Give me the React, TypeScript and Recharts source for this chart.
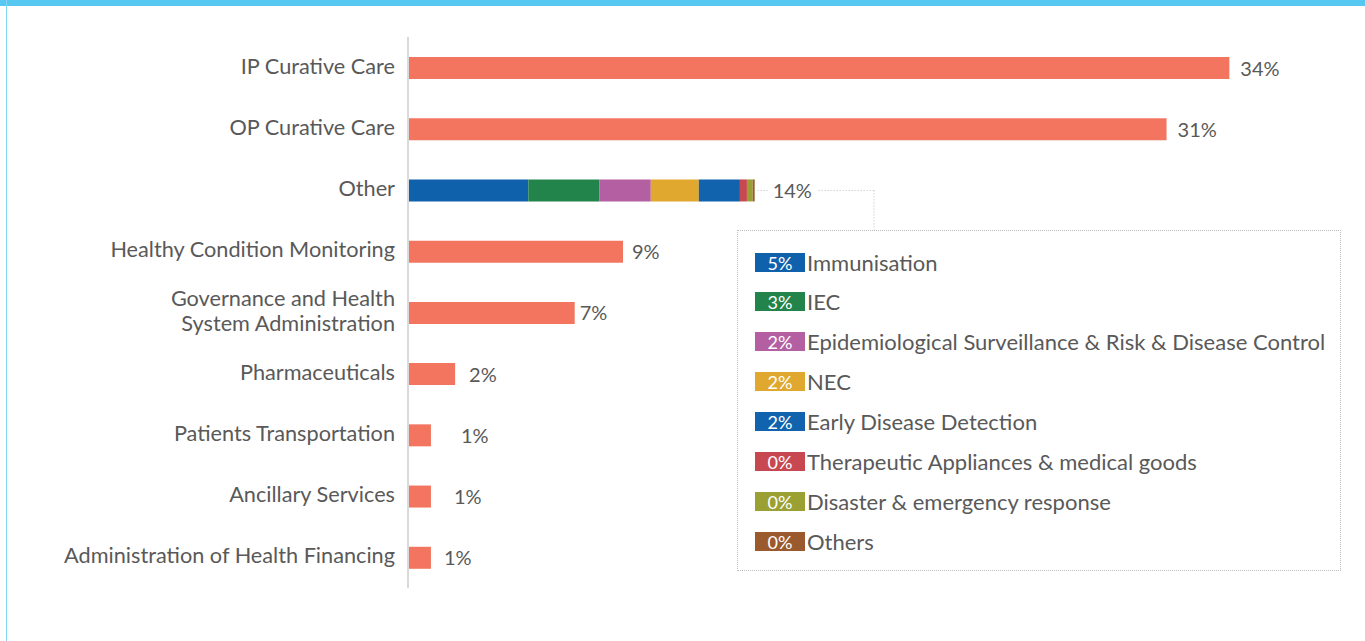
import { BarChart, Bar, XAxis, YAxis, LabelList } from 'recharts'

// spending categories, top to bottom
const categories = [
  'IP Curative Care',
  'OP Curative Care',
  'Other',
  'Healthy Condition Monitoring',
  'Governance and Health\nSystem Administration',
  'Pharmaceuticals',
  'Patients Transportation',
  'Ancillary Services',
  'Administration of Health Financing',
]
// share of spending (%); the "Other" row is broken down below
const shares = [34.0, 31.4, null, 8.9, 6.9, 1.95, 0.95, 0.95, 0.95]
// label spacing after each bar end (px)
const labelGap = [11, 11, 0, 9, 5, 14, 30, 23, 13]

const otherKeys = ['imm', 'iec', 'epi', 'nec', 'edd', 'ther', 'dis', 'oth']
const otherNames = [
  'Immunisation',
  'IEC',
  'Epidemiological Surveillance & Risk & Disease Control',
  'NEC',
  'Early Disease Detection',
  'Therapeutic Appliances & medical goods',
  'Disaster & emergency response',
  'Others',
]
const otherValues = [4.98, 2.95, 2.12, 1.99, 1.7, 0.29, 0.24, 0.08]
const otherColors = ['#1061AC', '#22844A', '#B55FA3', '#E0A82E', '#1163AD', '#C84852', '#9BA033', '#9B5A2D']

const BAR_COLOR = '#F37560'
const TEXT = '#595959'
const FONT = 'Lato, "Open Sans", sans-serif'
const OTHER_INDEX = categories.indexOf('Other')

const data = categories.map((name, i) => {
  const row: Record<string, any> = { name, main: shares[i] ?? undefined }
  if (i === OTHER_INDEX) {
    otherKeys.forEach((k, j) => { row[k] = otherValues[j] })
  }
  return row
})

const otherTotal = Math.round(otherValues.reduce((a, b) => a + b, 0))

const CategoryTick = (props: any) => {
  const { x, y, payload } = props
  const lines = String(payload.value).split('\n')
  const lh = 25
  const y0 = y - 2 - ((lines.length - 1) * lh) / 2
  return (
    <g>
      {lines.map((l, i) => (
        <text key={i} x={x - 5} y={y0 + i * lh} textAnchor="end" dominantBaseline="central"
          fill={TEXT} fontSize={21.7} fontFamily={FONT}>
          {l}
        </text>
      ))}
    </g>
  )
}

// LabelList keyed on the category name, so the row is found by name
const mainLabel = (props: any) => {
  const { x, y, width, height, value } = props
  const idx = categories.indexOf(value)
  const v = shares[idx]
  if (idx < 0 || v == null) return null
  return (
    <text x={x + width + labelGap[idx]} y={y + height / 2 - 0.5} dominantBaseline="central"
      fill={TEXT} fontSize={20} fontFamily={FONT}>
      {Math.round(v)}%
    </text>
  )
}

// legend box position, the callout line runs into it
const LEGEND_LEFT = 737
const LEGEND_TOP = 230
const CALLOUT_X = 874

const otherLabel = (props: any) => {
  const { x, y, width, height, value } = props
  if (value == null) return null
  const end = x + width
  const cy = y + height / 2
  const dot = { stroke: '#bdbdbd', strokeWidth: 1, strokeDasharray: '1 2' }
  return (
    <g>
      <line x1={end + 3} y1={cy} x2={end + 13} y2={cy} {...dot} />
      <text x={end + 18} y={cy - 0.5} dominantBaseline="central" fill={TEXT} fontSize={20} fontFamily={FONT}>
        {otherTotal}%
      </text>
      <line x1={end + 64} y1={cy} x2={CALLOUT_X} y2={cy} {...dot} />
      <line x1={CALLOUT_X} y1={cy} x2={CALLOUT_X} y2={LEGEND_TOP} {...dot} />
    </g>
  )
}

function OtherLegend() {
  return (
    <div
      style={{
        position: 'absolute',
        left: LEGEND_LEFT,
        top: LEGEND_TOP,
        width: 604,
        height: 341,
        boxSizing: 'border-box',
        border: '1px dotted #bdbdbd',
        fontFamily: FONT,
        background: '#fff',
      }}
    >
      {otherNames.map((n, i) => (
        <div
          key={n}
          style={{
            position: 'absolute',
            left: 17,
            top: 21 + i * 39.9,
            height: 20,
            display: 'flex',
            alignItems: 'center',
            whiteSpace: 'nowrap',
          }}
        >
          <span
            style={{
              display: 'inline-block',
              width: 50,
              height: 19,
              lineHeight: '21px',
              background: otherColors[i],
              color: '#fff',
              fontSize: 18,
              textAlign: 'center',
            }}
          >
            {Math.round(otherValues[i])}%
          </span>
          <span style={{ marginLeft: 2, color: TEXT, fontSize: 22 }}>{n}</span>
        </div>
      ))}
    </div>
  )
}

export default function App() {
  return (
    <div style={{ position: 'absolute', left: 0, top: 0, width: 1365, height: 641, background: '#fff' }}>
      <div style={{ position: 'absolute', left: 0, top: 0, width: 1365, height: 6, background: '#56C8F1' }} />
      <div style={{ position: 'absolute', left: 6, top: 0, width: 1, height: 641, background: '#7FD4F6' }} />
      <BarChart
        width={1365}
        height={641}
        data={data}
        layout="vertical"
        margin={{ top: 37, right: 39, bottom: 53, left: 0 }}
        barSize={22}
      >
        <XAxis type="number" domain={[0, 38]} hide />
        <YAxis
          type="category"
          dataKey="name"
          width={408}
          tick={<CategoryTick />}
          tickLine={false}
          axisLine={{ stroke: '#d9d9d9', strokeWidth: 2 }}
          interval={0}
        />
        <Bar dataKey="main" stackId="s" fill={BAR_COLOR} isAnimationActive={false}>
          <LabelList dataKey="name" content={mainLabel} />
        </Bar>
        {otherKeys.map((k, j) => (
          <Bar
            key={k}
            dataKey={k}
            stackId="s"
            fill={otherColors[j]}
            isAnimationActive={false}
            label={j === otherKeys.length - 1 ? otherLabel : undefined}
          />
        ))}
      </BarChart>
      <OtherLegend />
    </div>
  )
}
